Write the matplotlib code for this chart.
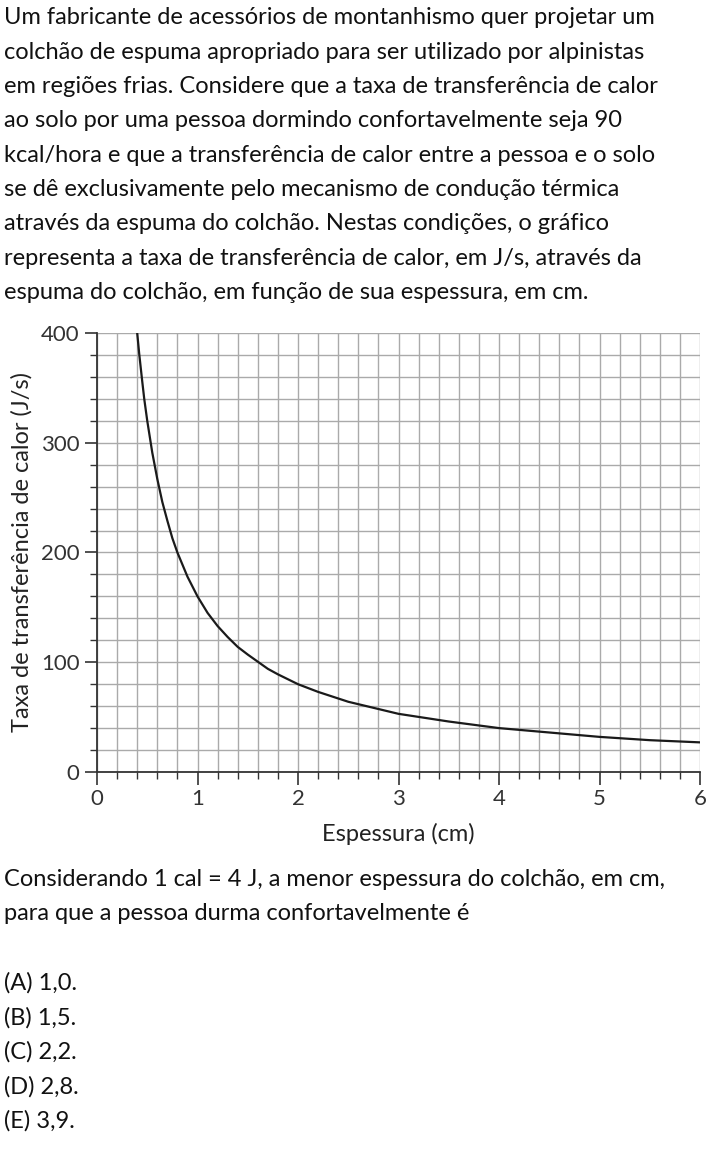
import matplotlib.pyplot as plt
import numpy as np

plt.rcParams['font.family'] = ['Lato', 'DejaVu Sans']

# curve
espessura = [0.4, 0.42, 0.45, 0.47, 0.5, 0.55, 0.6, 0.65, 0.7, 0.75, 0.8, 0.9, 1.0, 1.1, 1.2,
             1.3, 1.4, 1.5, 1.7, 1.8, 2.0, 2.2, 2.5, 3.0, 3.5, 4.0, 4.5, 5.0, 5.5, 6.0]
taxa = [400, 381, 356, 340, 320, 291, 267, 246, 229, 213, 200, 178, 160, 145, 133,
        123, 114, 107, 94, 89, 80, 73, 64, 53, 46, 40, 36, 32, 29, 27]

top_lines = [
    "Um fabricante de acessórios de montanhismo quer projetar um",
    "colchão de espuma apropriado para ser utilizado por alpinistas",
    "em regiões frias. Considere que a taxa de transferência de calor",
    "ao solo por uma pessoa dormindo confortavelmente seja 90",
    "kcal/hora e que a transferência de calor entre a pessoa e o solo",
    "se dê exclusivamente pelo mecanismo de condução térmica",
    "através da espuma do colchão. Nestas condições, o gráfico",
    "representa a taxa de transferência de calor, em J/s, através da",
    "espuma do colchão, em função de sua espessura, em cm.",
]
bottom_lines = [
    "Considerando 1 cal = 4 J, a menor espessura do colchão, em cm,",
    "para que a pessoa durma confortavelmente é",
]
opcoes = ["(A) 1,0.", "(B) 1,5.", "(C) 2,2.", "(D) 2,8.", "(E) 3,9."]

W, H = 718, 1162
fig = plt.figure(figsize=(W / 100, H / 100), dpi=100)

def put(text, ypix, x=4):
    fig.text(x / W, 1 - ypix / H, text, fontsize=17, va='center', ha='left', color='#111111')

for i, t in enumerate(top_lines):
    put(t, 18 + i * 34.3)
put(bottom_lines[0], 880)
put(bottom_lines[1], 914)
for i, t in enumerate(opcoes):
    put(t, 983 + i * 34.5)

ax = fig.add_axes([97 / W, 1 - 772 / H, 603 / W, 439 / H])
ax.plot(espessura, taxa, color='#1a1a1a', lw=1.6, zorder=3)
ax.set_xlim(0, 6)
ax.set_ylim(0, 400)
ax.set_xticks(range(7))
ax.set_yticks([0, 100, 200, 300, 400])
ax.set_xticks(np.arange(0, 6.01, 0.2), minor=True)
ax.set_yticks(np.arange(0, 401, 20), minor=True)
ax.grid(True, which='both', color='#aaaaaa', lw=1.0, zorder=0)
for s in ['top', 'right']:
    ax.spines[s].set_visible(False)
for s in ['left', 'bottom']:
    ax.spines[s].set_color('#333333')
    ax.spines[s].set_linewidth(1.3)
ax.tick_params(which='major', length=9, width=1.2, color='#333333', labelsize=16, labelcolor='#333333')
ax.tick_params(which='minor', length=5, width=1.0, color='#333333')
ax.set_xlabel('Espessura (cm)', fontsize=17, color='#222222', labelpad=10)
ax.set_ylabel('Taxa de transferência de calor (J/s)', fontsize=17, color='#222222', labelpad=6)

fig.savefig('out.png', dpi=100)
